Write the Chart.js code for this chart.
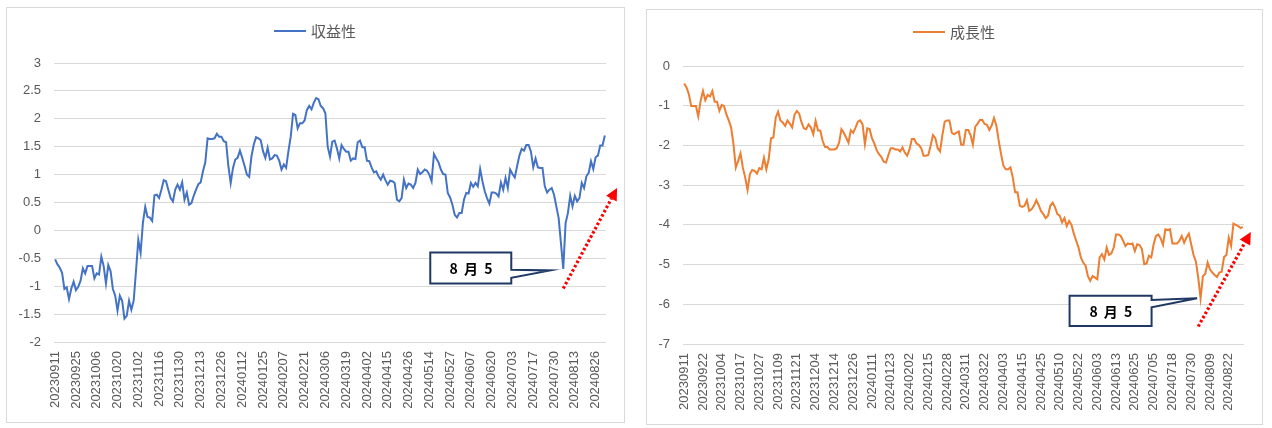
<!DOCTYPE html>
<html lang="ja">
<head>
<meta charset="UTF-8">
<title>収益性・成長性</title>
<script src="https://cdn.jsdelivr.net/npm/chart.js"></script>
<style>
  body { margin: 0; background: #fff; width: 1272px; height: 428px; position: relative; overflow: hidden; }
  .panel { position: absolute; border: 1px solid #d9d9d9; box-sizing: border-box; background: #fff; }
  .panel canvas { display: block; }
</style>
</head>
<body>
<div class="panel" style="left:6px; top:7px; width:619px; height:416px;">
  <canvas id="profitChart" width="617" height="414"></canvas>
</div>
<div class="panel" style="left:646px; top:9px; width:617px; height:416px;">
  <canvas id="growthChart" width="615" height="414"></canvas>
</div>

<script>
// tick labels shown under each chart (every 9th / 8th trading day)
const profitTicks = ['20230911','20230925','20231006','20231020','20231102','20231116','20231130',
  '20231213','20231226','20240112','20240125','20240207','20240221','20240306','20240319',
  '20240402','20240415','20240426','20240514','20240527','20240607','20240620','20240703',
  '20240717','20240730','20240813','20240826'];
const growthTicks = ['20230911','20230922','20231004','20231017','20231027','20231109','20231121',
  '20231204','20231214','20231226','20240111','20240123','20240202','20240215','20240228',
  '20240311','20240322','20240403','20240415','20240425','20240510','20240522','20240603',
  '20240613','20240625','20240705','20240718','20240730','20240809','20240822'];

// 収益性, one value per trading day from 2023-09-11
const profitValues = [
  -0.52,-0.61,-0.67,-0.76,-1.05,-1.02,-1.23,-1.04,-0.92,-1.07,
  -1.01,-0.90,-0.68,-0.77,-0.64,-0.64,-0.64,-0.86,-0.77,-0.79,
  -0.47,-0.64,-0.95,-0.62,-0.73,-1.05,-1.17,-1.44,-1.17,-1.26,
  -1.58,-1.53,-1.26,-1.42,-1.26,-0.73,-0.17,-0.40,0.14,0.42,
  0.24,0.23,0.17,0.63,0.64,0.58,0.73,0.90,0.88,0.73,
  0.58,0.52,0.73,0.82,0.73,0.86,0.55,0.68,0.46,0.49,
  0.62,0.73,0.83,0.86,1.06,1.22,1.65,1.64,1.64,1.65,
  1.73,1.68,1.68,1.60,1.58,1.15,0.85,1.12,1.27,1.30,
  1.43,1.30,1.16,1.00,0.96,1.33,1.54,1.67,1.65,1.62,
  1.42,1.30,1.48,1.27,1.29,1.35,1.34,1.25,1.09,1.18,
  1.12,1.42,1.68,2.09,2.07,1.83,1.92,1.92,1.97,2.16,
  2.23,2.17,2.29,2.37,2.35,2.23,2.19,2.10,1.50,1.32,
  1.59,1.61,1.47,1.29,1.53,1.46,1.41,1.41,1.25,1.29,
  1.28,1.58,1.61,1.49,1.49,1.25,1.24,1.13,1.04,1.06,
  0.97,0.91,1.00,0.90,0.82,0.89,0.88,0.85,0.55,0.52,
  0.58,0.91,0.76,0.84,0.82,0.76,0.85,1.09,1.01,1.04,
  1.09,1.07,1.00,0.88,1.37,1.29,1.22,1.09,1.01,1.00,
  0.67,0.59,0.46,0.28,0.23,0.31,0.31,0.55,0.67,0.66,
  0.85,0.78,0.85,0.79,1.10,0.88,0.70,0.58,0.48,0.68,
  0.68,0.66,0.61,0.86,0.73,0.94,0.76,1.09,1.01,0.95,
  1.15,1.34,1.46,1.43,1.53,1.53,1.41,1.13,1.29,1.13,
  1.12,1.12,0.79,0.68,0.73,0.76,0.64,0.43,0.22,-0.23,
  -0.69,0.13,0.31,0.62,0.43,0.62,0.52,0.58,0.85,0.76,
  0.97,1.03,1.24,1.10,1.31,1.34,1.52,1.52,1.70
];

// 成長性
const growthValues = [
  -0.44,-0.54,-0.71,-1.01,-1.01,-1.01,-1.27,-0.88,-0.63,-0.86,
  -0.73,-0.77,-0.63,-0.90,-0.90,-1.13,-0.98,-1.01,-1.22,-1.37,
  -1.55,-1.97,-2.56,-2.39,-2.20,-2.56,-2.81,-3.12,-2.72,-2.62,
  -2.64,-2.71,-2.57,-2.60,-2.31,-2.60,-2.35,-1.82,-1.80,-1.30,
  -1.15,-1.37,-1.42,-1.51,-1.37,-1.45,-1.55,-1.23,-1.13,-1.20,
  -1.42,-1.57,-1.59,-1.47,-1.55,-1.72,-1.38,-1.62,-1.63,-1.89,
  -2.04,-2.04,-2.10,-2.10,-2.10,-2.07,-1.93,-1.59,-1.68,-1.80,
  -1.93,-1.62,-1.68,-1.55,-1.40,-1.37,-1.47,-1.97,-1.57,-1.59,
  -1.82,-1.95,-2.12,-2.22,-2.29,-2.41,-2.43,-2.24,-2.07,-2.07,
  -2.10,-2.10,-2.15,-2.05,-2.18,-2.26,-2.10,-1.84,-1.84,-1.95,
  -1.99,-2.07,-2.26,-2.26,-2.24,-2.01,-1.74,-1.82,-2.07,-2.15,
  -1.74,-1.40,-1.37,-1.37,-1.68,-1.72,-1.68,-1.65,-1.98,-1.98,
  -1.61,-1.61,-1.74,-1.98,-1.53,-1.45,-1.36,-1.36,-1.46,-1.48,
  -1.61,-1.50,-1.31,-1.50,-1.88,-2.22,-2.51,-2.60,-2.60,-2.55,
  -2.81,-3.18,-3.18,-3.52,-3.55,-3.52,-3.38,-3.65,-3.61,-3.52,
  -3.38,-3.50,-3.65,-3.73,-3.83,-3.77,-3.52,-3.44,-3.56,-3.73,
  -3.77,-3.94,-3.83,-4.03,-3.90,-4.00,-4.22,-4.40,-4.57,-4.82,
  -4.95,-5.03,-5.29,-5.41,-5.29,-5.33,-5.37,-4.82,-4.74,-4.87,
  -4.57,-4.76,-4.72,-4.57,-4.24,-4.24,-4.28,-4.40,-4.53,-4.47,
  -4.49,-4.47,-4.66,-4.49,-4.51,-4.61,-4.99,-4.97,-4.78,-4.82,
  -4.49,-4.28,-4.24,-4.34,-4.50,-4.11,-4.13,-4.11,-4.47,-4.47,
  -4.47,-4.40,-4.28,-4.45,-4.32,-4.22,-4.49,-4.76,-4.92,-5.33,
  -5.85,-5.29,-5.23,-4.95,-5.12,-5.20,-5.26,-5.31,-5.20,-5.18,
  -4.81,-4.76,-4.32,-4.53,-3.97,-4.00,-4.03,-4.08,-4.05
];

const aug5 = 220; // index of 2024-08-05

Chart.defaults.font.family = '"Liberation Sans", "Noto Sans CJK JP", sans-serif';
Chart.defaults.font.size = 13;
Chart.defaults.color = '#595959';

// Excel-style legend: short line + label, centred above the plot
const lineLegend = {
  id: 'lineLegend',
  afterDraw(chart, args, opts) {
    const ds = chart.data.datasets[0];
    const ctx = chart.ctx;
    ctx.save();
    ctx.font = '15px "Noto Sans CJK JP"';
    const tw = ctx.measureText(ds.label).width;
    const x0 = Math.round((chart.width - (32 + 5 + tw)) / 2);
    ctx.strokeStyle = ds.borderColor;
    ctx.lineWidth = 2;
    ctx.beginPath();
    ctx.moveTo(x0, opts.y);
    ctx.lineTo(x0 + 32, opts.y);
    ctx.stroke();
    ctx.fillStyle = '#595959';
    ctx.textBaseline = 'middle';
    ctx.fillText(ds.label, x0 + 37, opts.y);
    ctx.restore();
  }
};

// callout "8月5" and the red dotted arrow
const marks = {
  id: 'marks',
  afterDraw(chart, args, o) {
    const {ctx, scales: {x, y}} = chart;
    const vals = chart.data.datasets[0].data;
    ctx.save();

    // red dotted arrow
    const x1 = x.getPixelForValue(o.arrowFrom[0]), y1 = y.getPixelForValue(o.arrowFrom[1]);
    const x2 = x.getPixelForValue(o.arrowTo[0]), y2 = y.getPixelForValue(o.arrowTo[1]);
    const a = Math.atan2(y2 - y1, x2 - x1);
    const hl = 12, hw = 6;
    const bx = x2 - hl * Math.cos(a), by = y2 - hl * Math.sin(a);
    ctx.strokeStyle = '#ff0000';
    ctx.lineWidth = 3.2;
    ctx.setLineDash([2.6, 2.2]);
    ctx.beginPath();
    ctx.moveTo(x1, y1);
    ctx.lineTo(bx, by);
    ctx.stroke();
    ctx.setLineDash([]);
    ctx.fillStyle = '#ff0000';
    ctx.beginPath();
    ctx.moveTo(x2, y2);
    ctx.lineTo(bx + hw * Math.sin(a), by - hw * Math.cos(a));
    ctx.lineTo(bx - hw * Math.sin(a), by + hw * Math.cos(a));
    ctx.closePath();
    ctx.fill();

    // callout box with wedge pointing at the 8/5 low
    const p = vals[aug5];
    const tx = x.getPixelForValue(p.x) + o.tip[0];
    const ty = y.getPixelForValue(p.y) + o.tip[1];
    const L = tx + o.box[0], R = L + o.box[2];
    const T = ty + o.box[1], B = T + o.box[3];
    ctx.beginPath();
    ctx.moveTo(L, T);
    ctx.lineTo(R, T);
    ctx.lineTo(R, ty + o.wedge[0]);
    ctx.lineTo(tx, ty);
    ctx.lineTo(R, ty + o.wedge[1]);
    ctx.lineTo(R, B);
    ctx.lineTo(L, B);
    ctx.closePath();
    ctx.fillStyle = '#ffffff';
    ctx.fill();
    ctx.strokeStyle = '#1f3864';
    ctx.lineWidth = 2;
    ctx.lineJoin = 'miter';
    ctx.stroke();
    ctx.fillStyle = '#000000';
    ctx.font = 'bold 14px "Noto Sans CJK JP"';
    ctx.letterSpacing = '1.5px';
    ctx.textAlign = 'center';
    ctx.textBaseline = 'middle';
    ctx.fillText(o.text, (L + R) / 2 + 1, (T + B) / 2 + 1);
    ctx.restore();
  }
};

function makeChart(id, label, color, values, ticks, step, yMin, yMax, yStep, yWidth, padTop, m) {
  return new Chart(document.getElementById(id), {
    type: 'line',
    data: {
      datasets: [{
        label: label,
        data: values.map((v, i) => ({x: i, y: v})),
        borderColor: color,
        backgroundColor: color,
        borderWidth: 2,
        pointRadius: 0,
        tension: 0,
        fill: false
      }]
    },
    options: {
      responsive: false,
      animation: false,
      layout: { padding: { top: padTop, left: 0, right: 18, bottom: 0 } },
      plugins: {
        legend: { display: false },
        tooltip: { enabled: false },
        lineLegend: { y: m.legendY },
        marks: m
      },
      scales: {
        x: {
          type: 'linear',
          min: -0.5,
          max: values.length - 0.5,
          afterBuildTicks: s => { s.ticks = ticks.map((t, i) => ({value: i * step})); },
          afterFit: s => { s.height = 80; },
          ticks: {
            autoSkip: false,
            minRotation: 90,
            maxRotation: 90,
            padding: 9,
            callback: (v, i) => ticks[i]
          },
          grid: { display: false, drawTicks: false },
          border: { display: false }
        },
        y: {
          min: yMin,
          max: yMax,
          afterFit: s => { s.width = yWidth; },
          ticks: { stepSize: yStep, padding: 13, callback: v => String(v) },
          grid: { color: '#d9d9d9', lineWidth: 1, drawTicks: false },
          border: { display: false }
        }
      }
    },
    plugins: [lineLegend, marks]
  });
}

makeChart('profitChart', '収益性', '#4472c4', profitValues, profitTicks, 9, -2, 3, 0.5, 47, 55, {
  legendY: 23,
  text: '8 月 5',
  tip: [-13, 1.5],
  box: [-120, -18, 81, 31],
  wedge: [-0.6, 7.4],
  arrowFrom: [220, -1.04],
  arrowTo: [243.3, 0.76]
});

makeChart('growthChart', '成長性', '#ed7d31', growthValues, growthTicks, 8, -7, 0, 1, 36, 56, {
  legendY: 22,
  text: '8 月 5',
  tip: [-3.5, 0],
  box: [-127.5, -2.6, 82, 30.3],
  wedge: [1.7, 9],
  arrowFrom: [219, -6.56],
  arrowTo: [241.4, -4.18]
});
</script>
</body>
</html>
